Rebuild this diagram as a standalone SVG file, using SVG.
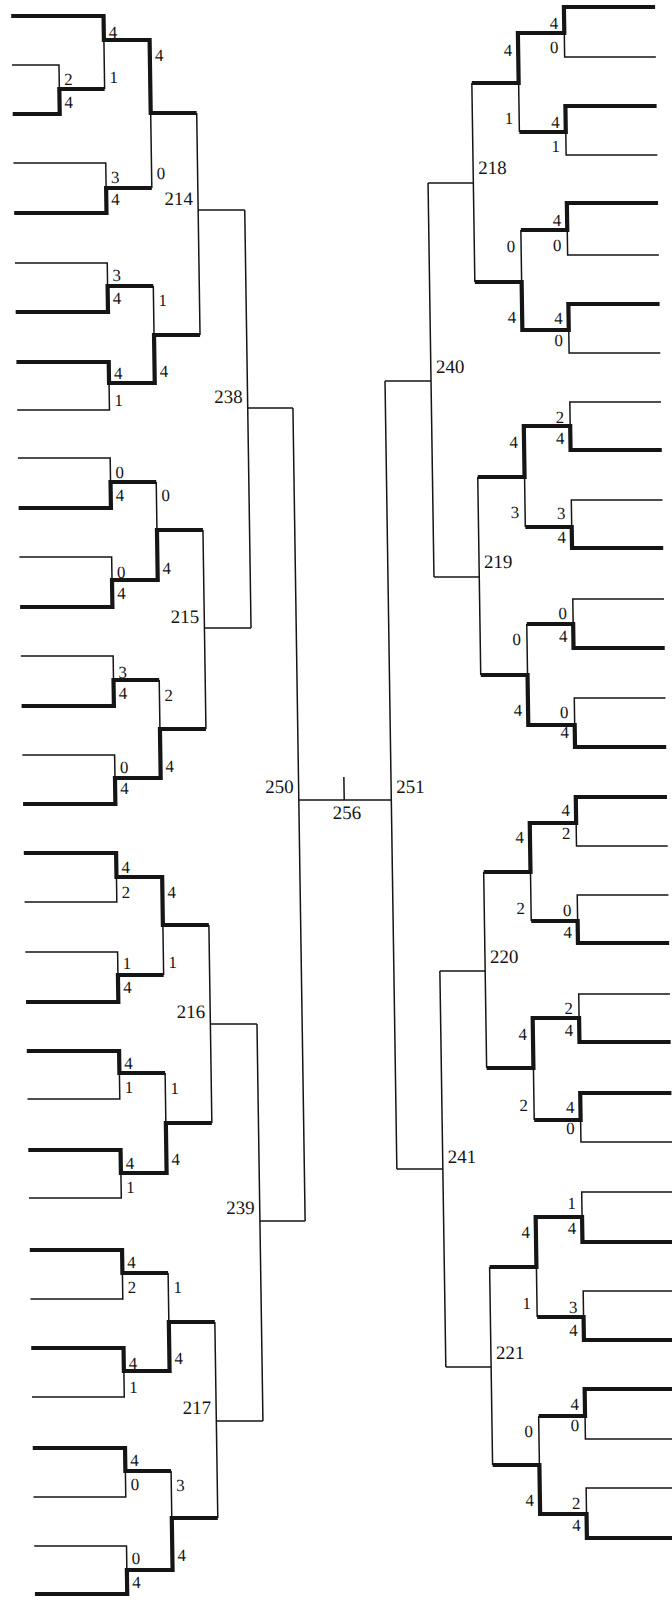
<svg xmlns="http://www.w3.org/2000/svg" width="672" height="1600" viewBox="0 0 672 1600">
<style>
.t{stroke:#151515;stroke-width:1.5;fill:none}
.k{stroke:#151515;stroke-width:4.2;fill:none;stroke-linejoin:miter}
text{font-family:"Liberation Serif","Times New Roman",serif;fill:#151515}
.s{font-size:17px}
.m{font-size:19px}
.e{text-anchor:end}
.c{text-anchor:middle}
</style>
<rect width="672" height="1600" fill="#fff"/>
<g id="bracket" transform="skewX(0.86)">
<g id="connectors">
<!-- left play-in and first quarter -->
<polyline class="t" points="11,65 58,65 58,89"/>
<polyline class="k" points="11,114 58,114 58,89 103.3,89"/>
<polyline class="t" points="103.3,89 103.3,40"/>
<polyline class="k" points="11,16 103.3,16 103.3,40 149,40 149,113 195,113"/>
<polyline class="t" points="11,163 103.3,163 103.3,188"/>
<polyline class="k" points="11,213 103.3,213 103.3,188 149,188"/>
<polyline class="t" points="149,188 149,113"/>
<polyline class="t" points="11,263 103.3,263 103.3,286"/>
<polyline class="k" points="11,312 103.3,312 103.3,286 149,286"/>
<polyline class="t" points="149,286 149,335"/>
<polyline class="k" points="11,362 103.3,362 103.3,383 149,383 149,335 195,335"/>
<polyline class="t" points="11,410 103.3,410 103.3,383"/>
<polyline class="t" points="195,113 195,335"/>
<polyline class="t" points="195,210 241.6,210"/>
<polyline class="t" points="11,458 103.3,458 103.3,482"/>
<polyline class="k" points="11,508 103.3,508 103.3,482 149,482"/>
<polyline class="t" points="149,482 149,530"/>
<polyline class="t" points="11,557 103.3,557 103.3,580"/>
<polyline class="k" points="11,607 103.3,607 103.3,580 149,580 149,530 195,530"/>
<polyline class="t" points="11,656 103.3,656 103.3,680"/>
<polyline class="k" points="11,706 103.3,706 103.3,680 149,680"/>
<polyline class="t" points="149,680 149,729"/>
<polyline class="t" points="11,755 103.3,755 103.3,778"/>
<polyline class="k" points="11,804 103.3,804 103.3,778 149,778 149,729 195,729"/>
<polyline class="t" points="195,530 195,729"/>
<polyline class="t" points="195,628 241.6,628"/>
<polyline class="t" points="241.6,210 241.6,628"/>
<polyline class="t" points="241.6,408 286.8,408"/>
<polyline class="k" points="11,853 103.3,853 103.3,877 149,877 149,925 195,925"/>
<polyline class="t" points="11,902 103.3,902 103.3,877"/>
<polyline class="t" points="11,952 103.3,952 103.3,975"/>
<polyline class="k" points="11,1002 103.3,1002 103.3,975 149,975"/>
<polyline class="t" points="149,975 149,925"/>
<polyline class="k" points="11,1051 103.3,1051 103.3,1073 149,1073"/>
<polyline class="t" points="11,1099 103.3,1099 103.3,1073"/>
<polyline class="t" points="149,1073 149,1123"/>
<polyline class="k" points="11,1150 103.3,1150 103.3,1173 149,1173 149,1123 195,1123"/>
<polyline class="t" points="11,1198 103.3,1198 103.3,1173"/>
<polyline class="t" points="195,925 195,1123"/>
<polyline class="t" points="195,1024 241.6,1024"/>
<polyline class="k" points="11,1250 103.3,1250 103.3,1273 149,1273"/>
<polyline class="t" points="11,1299 103.3,1299 103.3,1273"/>
<polyline class="t" points="149,1273 149,1322"/>
<polyline class="k" points="11,1348 103.3,1348 103.3,1371 149,1371 149,1322 195,1322"/>
<polyline class="t" points="11,1397 103.3,1397 103.3,1371"/>
<polyline class="k" points="11,1448 103.3,1448 103.3,1471 149,1471"/>
<polyline class="t" points="11,1497 103.3,1497 103.3,1471"/>
<polyline class="t" points="149,1471 149,1518"/>
<polyline class="t" points="11,1546 103.3,1546 103.3,1570"/>
<polyline class="k" points="11,1594 103.3,1594 103.3,1570 149,1570 149,1518 195,1518"/>
<polyline class="t" points="195,1322 195,1518"/>
<polyline class="t" points="195,1421 241.6,1421"/>
<polyline class="t" points="241.6,1024 241.6,1421"/>
<polyline class="t" points="241.6,1221 286.8,1221"/>
<polyline class="t" points="286.8,408 286.8,1221"/>
<!-- final -->
<polyline class="t" points="286.8,800 379.3,800"/>
<polyline class="t" points="332.2,777 332.2,800"/>
<polyline class="t" points="379.3,381 379.3,1169"/>
<!-- right side -->
<polyline class="k" points="655,7 563.8,7 563.8,33 517.4,33 517.4,83 470.6,83"/>
<polyline class="t" points="655,57 563.8,57 563.8,33"/>
<polyline class="k" points="655,106 563.8,106 563.8,132 517.4,132"/>
<polyline class="t" points="655,155 563.8,155 563.8,132"/>
<polyline class="t" points="517.4,132 517.4,83"/>
<polyline class="k" points="655,203 563.8,203 563.8,230 517.4,230"/>
<polyline class="t" points="655,255 563.8,255 563.8,230"/>
<polyline class="t" points="517.4,230 517.4,282"/>
<polyline class="k" points="655,304 563.8,304 563.8,330 517.4,330 517.4,282 470.6,282"/>
<polyline class="t" points="655,353 563.8,353 563.8,330"/>
<polyline class="t" points="470.6,83 470.6,282"/>
<polyline class="t" points="470.6,183 425.3,183"/>
<polyline class="t" points="655,402 563.8,402 563.8,426"/>
<polyline class="k" points="655,450 563.8,450 563.8,426 517.4,426 517.4,477 470.6,477"/>
<polyline class="t" points="655,500 563.8,500 563.8,527"/>
<polyline class="k" points="655,548 563.8,548 563.8,527 517.4,527"/>
<polyline class="t" points="517.4,527 517.4,477"/>
<polyline class="t" points="655,599 563.8,599 563.8,624"/>
<polyline class="k" points="655,648 563.8,648 563.8,624 517.4,624"/>
<polyline class="t" points="517.4,624 517.4,675"/>
<polyline class="t" points="655,698 563.8,698 563.8,725"/>
<polyline class="k" points="655,747 563.8,747 563.8,725 517.4,725 517.4,675 470.6,675"/>
<polyline class="t" points="470.6,477 470.6,675"/>
<polyline class="t" points="470.6,577 425.3,577"/>
<polyline class="t" points="425.3,183 425.3,577"/>
<polyline class="t" points="425.3,381 379.3,381"/>
<polyline class="k" points="655,797 563.8,797 563.8,823 517.4,823 517.4,872 470.6,872"/>
<polyline class="t" points="655,846 563.8,846 563.8,823"/>
<polyline class="t" points="655,895 563.8,895 563.8,921"/>
<polyline class="k" points="655,943 563.8,943 563.8,921 517.4,921"/>
<polyline class="t" points="517.4,921 517.4,872"/>
<polyline class="t" points="655,994 563.8,994 563.8,1018"/>
<polyline class="k" points="655,1042 563.8,1042 563.8,1018 517.4,1018 517.4,1068 470.6,1068"/>
<polyline class="k" points="655,1093 563.8,1093 563.8,1120 517.4,1120"/>
<polyline class="t" points="655,1142 563.8,1142 563.8,1120"/>
<polyline class="t" points="517.4,1120 517.4,1068"/>
<polyline class="t" points="470.6,872 470.6,1068"/>
<polyline class="t" points="470.6,971 425.3,971"/>
<polyline class="t" points="655,1192 563.8,1192 563.8,1217"/>
<polyline class="k" points="655,1242 563.8,1242 563.8,1217 517.4,1217 517.4,1267 470.6,1267"/>
<polyline class="t" points="655,1291 563.8,1291 563.8,1317"/>
<polyline class="k" points="655,1340 563.8,1340 563.8,1317 517.4,1317"/>
<polyline class="t" points="517.4,1317 517.4,1267"/>
<polyline class="k" points="655,1389 563.8,1389 563.8,1416 517.4,1416"/>
<polyline class="t" points="655,1439 563.8,1439 563.8,1416"/>
<polyline class="t" points="517.4,1416 517.4,1465"/>
<polyline class="t" points="655,1488 563.8,1488 563.8,1514"/>
<polyline class="k" points="655,1538 563.8,1538 563.8,1514 517.4,1514 517.4,1465 470.6,1465"/>
<polyline class="t" points="470.6,1267 470.6,1465"/>
<polyline class="t" points="470.6,1367 425.3,1367"/>
<polyline class="t" points="425.3,971 425.3,1367"/>
<polyline class="t" points="425.3,1169 379.3,1169"/>
</g>
<g id="matches" class="m">
<g id="m214"><text class="e" x="190" y="205">214</text></g>
<g id="m215"><text class="e" x="190" y="623">215</text></g>
<g id="m216"><text class="e" x="190" y="1018">216</text></g>
<g id="m217"><text class="e" x="190" y="1414">217</text></g>
<g id="m238"><text class="e" x="236.6" y="403">238</text></g>
<g id="m239"><text class="e" x="236.6" y="1214">239</text></g>
<g id="m250"><text class="e" x="281.8" y="793">250</text></g>
<g id="m256"><text class="c" x="334.8" y="819">256</text></g>
<g id="m251"><text x="384.3" y="793">251</text></g>
<g id="m240"><text x="430.3" y="373">240</text></g>
<g id="m241"><text x="430.3" y="1163">241</text></g>
<g id="m218"><text x="475.6" y="174">218</text></g>
<g id="m219"><text x="475.6" y="568">219</text></g>
<g id="m220"><text x="475.6" y="963">220</text></g>
<g id="m221"><text x="475.6" y="1359">221</text></g>
</g>
<g id="scores-left" class="s">
<text x="63" y="85">2</text><text x="63" y="108">4</text>
<text x="108.3" y="38">4</text><text x="108.3" y="83">1</text>
<text x="108.3" y="183">3</text><text x="108.3" y="205">4</text>
<text x="108.3" y="281">3</text><text x="108.3" y="304">4</text>
<text x="108.3" y="379">4</text><text x="108.3" y="406">1</text>
<text x="108.3" y="478">0</text><text x="108.3" y="501">4</text>
<text x="108.3" y="578">0</text><text x="108.3" y="599">4</text>
<text x="108.3" y="678">3</text><text x="108.3" y="699">4</text>
<text x="108.3" y="773">0</text><text x="108.3" y="794">4</text>
<text x="108.3" y="873">4</text><text x="108.3" y="898">2</text>
<text x="108.3" y="969">1</text><text x="108.3" y="993">4</text>
<text x="108.3" y="1069">4</text><text x="108.3" y="1093">1</text>
<text x="108.3" y="1169">4</text><text x="108.3" y="1193">1</text>
<text x="108.3" y="1268">4</text><text x="108.3" y="1293">2</text>
<text x="108.3" y="1369">4</text><text x="108.3" y="1393">1</text>
<text x="108.3" y="1466">4</text><text x="108.3" y="1490">0</text>
<text x="108.3" y="1564">0</text><text x="108.3" y="1588">4</text>
<text x="154" y="61">4</text><text x="154" y="179">0</text>
<text x="154" y="306">1</text><text x="154" y="377">4</text>
<text x="154" y="501">0</text><text x="154" y="574">4</text>
<text x="154" y="701">2</text><text x="154" y="772">4</text>
<text x="154" y="898">4</text><text x="154" y="968">1</text>
<text x="154" y="1094">1</text><text x="154" y="1165">4</text>
<text x="154" y="1293">1</text><text x="154" y="1364">4</text>
<text x="154" y="1491">3</text><text x="154" y="1561">4</text>
</g>
<g id="scores-right" class="s e">
<text x="557.8" y="29">4</text><text x="557.8" y="53">0</text>
<text x="557.8" y="128">4</text><text x="557.8" y="152">1</text>
<text x="557.8" y="226">4</text><text x="557.8" y="251">0</text>
<text x="557.8" y="324">4</text><text x="557.8" y="346">0</text>
<text x="557.8" y="423">2</text><text x="557.8" y="444">4</text>
<text x="557.8" y="519">3</text><text x="557.8" y="543">4</text>
<text x="557.8" y="619">0</text><text x="557.8" y="642">4</text>
<text x="557.8" y="718">0</text><text x="557.8" y="738">4</text>
<text x="557.8" y="816">4</text><text x="557.8" y="839">2</text>
<text x="557.8" y="916">0</text><text x="557.8" y="938">4</text>
<text x="557.8" y="1014">2</text><text x="557.8" y="1036">4</text>
<text x="557.8" y="1113">4</text><text x="557.8" y="1134">0</text>
<text x="557.8" y="1209">1</text><text x="557.8" y="1234">4</text>
<text x="557.8" y="1313">3</text><text x="557.8" y="1336">4</text>
<text x="557.8" y="1410">4</text><text x="557.8" y="1431">0</text>
<text x="557.8" y="1509">2</text><text x="557.8" y="1531">4</text>
<text x="511.4" y="56">4</text><text x="511.4" y="124">1</text>
<text x="511.4" y="252">0</text><text x="511.4" y="323">4</text>
<text x="511.4" y="448">4</text><text x="511.4" y="518">3</text>
<text x="511.4" y="645">0</text><text x="511.4" y="716">4</text>
<text x="511.4" y="843">4</text><text x="511.4" y="914">2</text>
<text x="511.4" y="1040">4</text><text x="511.4" y="1111">2</text>
<text x="511.4" y="1238">4</text><text x="511.4" y="1309">1</text>
<text x="511.4" y="1437">0</text><text x="511.4" y="1506">4</text>
</g>
</g>
</svg>
